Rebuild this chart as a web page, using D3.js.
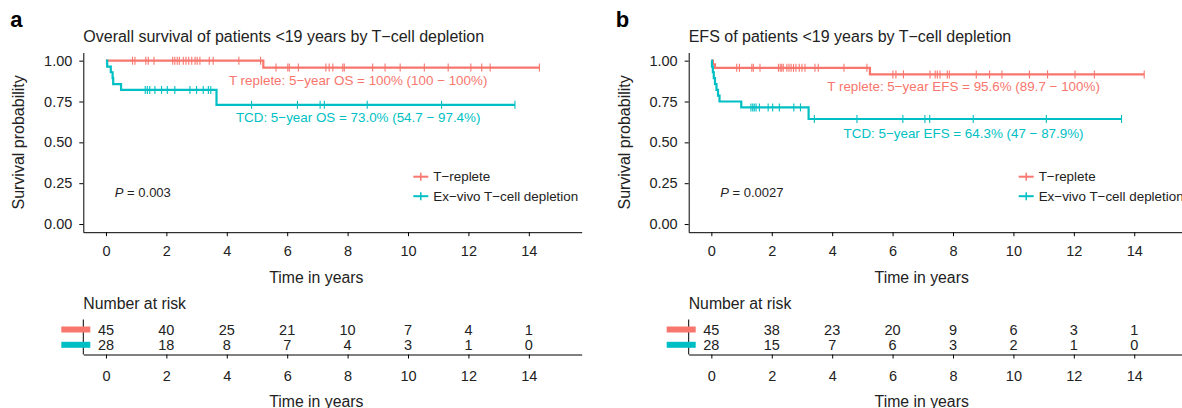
<!DOCTYPE html>
<html>
<head>
<meta charset="utf-8">
<script src="https://cdnjs.cloudflare.com/ajax/libs/d3/7.8.5/d3.min.js"></script>
<style>
  body { margin: 0; background: #fff; }
  svg { display: block; font-family: "Liberation Sans", Arial, Helvetica, sans-serif; }
  .axis path, .axis line { stroke: #000; }
  .axis text { fill: #222; }
</style>
</head>
<body>
<svg id="chart" width="1182" height="408"></svg>
<script>
// ---- data ----
const timeTicks = [0, 2, 4, 6, 8, 10, 12, 14];
const survTicks = [0, 0.25, 0.5, 0.75, 1];
const groups = ["T\u2212replete", "Ex\u2212vivo T\u2212cell depletion"];
const colors = ["#F8766D", "#00BFC4"];

// panel a: overall survival
const osRepleteSteps = [[0, 1], [5.21, 0.958]];
const osRepleteEnd = 14.35;
const osRepleteCensor = [0.88, 0.96, 1.32, 1.40, 1.59, 2.21, 2.28, 2.36, 2.43, 2.56, 2.65, 2.74, 2.84, 2.95,
  3.02, 3.11, 3.42, 3.55, 4.40, 5.12, 5.63, 6.02, 6.07, 6.37, 7.28, 7.39, 7.51, 7.84, 7.89, 8.83, 9.24,
  9.74, 10.54, 11.33, 12.08, 12.44, 12.72, 14.35];
const osTcdSteps = [[0, 1], [0.04, 0.964], [0.16, 0.929], [0.22, 0.893], [0.24, 0.857], [0.50, 0.821], [3.66, 0.730]];
const osTcdEnd = 13.54;
const osTcdCensor = [1.30, 1.37, 1.45, 1.62, 1.84, 2.03, 2.28, 2.78, 3.00, 3.22, 3.39, 3.47, 4.82, 6.34,
  7.09, 7.23, 8.65, 11.11, 13.54];
const osRiskReplete = [45, 40, 25, 21, 10, 7, 4, 1];
const osRiskTcd = [28, 18, 8, 7, 4, 3, 1, 0];

// panel b: event-free survival
const efsRepleteSteps = [[0, 1], [0.05, 0.978], [0.12, 0.956], [5.25, 0.916]];
const efsRepleteEnd = 14.33;
const efsRepleteCensor = [0.84, 0.93, 1.34, 1.39, 1.61, 2.22, 2.28, 2.33, 2.38, 2.50, 2.57, 2.64, 2.72, 2.80,
  2.91, 3.00, 3.10, 3.43, 3.54, 4.39, 5.15, 6.01, 6.11, 6.36, 7.24, 7.41, 7.48, 7.57, 7.81, 7.88, 8.77,
  9.21, 9.62, 10.53, 11.13, 12.04, 12.68, 14.33];
const efsTcdSteps = [[0, 1], [0.02, 0.964], [0.05, 0.929], [0.08, 0.893], [0.12, 0.857], [0.17, 0.821],
  [0.22, 0.786], [0.27, 0.75], [0.99, 0.714], [3.22, 0.643]];
const efsTcdEnd = 13.58;
const efsTcdCensor = [1.31, 1.37, 1.42, 1.48, 1.59, 1.88, 2.03, 2.25, 2.73, 2.95, 3.41, 4.82, 6.34, 7.07,
  7.23, 8.67, 11.09, 13.58];
const efsRiskReplete = [45, 38, 23, 20, 9, 6, 3, 1];
const efsRiskTcd = [28, 15, 7, 6, 3, 2, 1, 0];

const panels = [
  {
    letter: "a", left: 83.3,
    title: "Overall survival of patients <19 years by T\u2212cell depletion",
    curves: [
      {steps: osRepleteSteps, end: osRepleteEnd, censor: osRepleteCensor},
      {steps: osTcdSteps, end: osTcdEnd, censor: osTcdCensor}
    ],
    notes: [
      {t: 8.35, s: 0.88, text: "T replete: 5\u2212year OS = 100% (100 \u2212 100%)"},
      {t: 8.35, s: 0.655, text: "TCD: 5\u2212year OS = 73.0% (54.7 \u2212 97.4%)"}
    ],
    pval: "0.003",
    risk: [osRiskReplete, osRiskTcd]
  },
  {
    letter: "b", left: 688.7,
    title: "EFS of patients <19 years by T\u2212cell depletion",
    curves: [
      {steps: efsRepleteSteps, end: efsRepleteEnd, censor: efsRepleteCensor},
      {steps: efsTcdSteps, end: efsTcdEnd, censor: efsTcdCensor}
    ],
    notes: [
      {t: 8.35, s: 0.84, text: "T replete: 5\u2212year EFS = 95.6% (89.7 \u2212 100%)"},
      {t: 8.35, s: 0.553, text: "TCD: 5\u2212year EFS = 64.3% (47 \u2212 87.9%)"}
    ],
    pval: "0.0027",
    risk: [efsRiskReplete, efsRiskTcd]
  }
];

const svg = d3.select("#chart");
const plotW = 498.4;

function survAt(steps, t) {
  let s = steps[0][1];
  steps.forEach(d => { if (d[0] <= t) s = d[1]; });
  return s;
}

panels.forEach(p => {
  const g = svg.append("g");
  const x = d3.scaleLinear().domain([-0.75, 15.75]).range([p.left, p.left + plotW]);
  const y = d3.scaleLinear().domain([-0.05, 1.05]).range([232.2, 52.5]);

  g.append("text")
    .attr("x", p.left - 73).attr("y", 27)
    .attr("font-size", 22).attr("font-weight", "bold").attr("fill", "#000")
    .text(p.letter);

  g.append("text")
    .attr("x", p.left).attr("y", 42)
    .attr("font-size", 16).attr("fill", "#222")
    .text(p.title);

  // axes
  g.append("g").attr("class", "axis")
    .attr("transform", `translate(${p.left},0)`)
    .call(d3.axisLeft(y).tickValues(survTicks).tickFormat(d3.format(".2f"))
      .tickSize(4).tickSizeOuter(0).tickPadding(7))
    .call(a => a.selectAll("text").attr("font-size", 14.5).attr("font-family", null));

  g.append("g").attr("class", "axis")
    .attr("transform", "translate(0,232.2)")
    .call(d3.axisBottom(x).tickValues(timeTicks).tickSize(4).tickSizeOuter(0).tickPadding(10))
    .call(a => a.selectAll("text").attr("font-size", 14.5).attr("font-family", null));

  g.append("text")
    .attr("transform", `translate(${p.left - 59},142.4) rotate(-90)`)
    .attr("text-anchor", "middle").attr("font-size", 16).attr("fill", "#222")
    .text("Survival probability");

  g.append("text")
    .attr("x", p.left + 233).attr("y", 283)
    .attr("text-anchor", "middle").attr("font-size", 15.8).attr("fill", "#222")
    .text("Time in years");

  // curves
  const line = d3.line().x(d => x(d[0])).y(d => y(d[1])).curve(d3.curveStepAfter);
  p.curves.forEach((c, i) => {
    const pts = c.steps.concat([[c.end, c.steps[c.steps.length - 1][1]]]);
    g.append("path")
      .attr("d", line(pts))
      .attr("fill", "none").attr("stroke", colors[i]).attr("stroke-width", 2.2);
    g.selectAll(null)
      .data(c.censor)
      .enter()
      .append("line")
        .attr("x1", d => x(d)).attr("x2", d => x(d))
        .attr("y1", d => y(survAt(c.steps, d)) - 4)
        .attr("y2", d => y(survAt(c.steps, d)) + 4)
        .attr("stroke", colors[i]).attr("stroke-width", 1.1);
  });

  p.notes.forEach((n, i) => {
    g.append("text")
      .attr("x", x(n.t)).attr("y", y(n.s))
      .attr("dy", "0.35em").attr("text-anchor", "middle")
      .attr("font-size", 13.4).attr("fill", colors[i])
      .text(n.text);
  });

  const pt = g.append("text")
    .attr("x", p.left + 31.5).attr("y", 192.5).attr("dy", "0.35em")
    .attr("font-size", 13).attr("fill", "#222");
  pt.append("tspan").attr("font-style", "italic").text("P");
  pt.append("tspan").text(" = " + p.pval);

  // legend
  groups.forEach((name, i) => {
    const ly = 176.7 + i * 19.5;
    const lx = p.left + 330;
    g.append("line").attr("x1", lx).attr("x2", lx + 15).attr("y1", ly).attr("y2", ly)
      .attr("stroke", colors[i]).attr("stroke-width", 2);
    g.append("line").attr("x1", lx + 7.5).attr("x2", lx + 7.5).attr("y1", ly - 4).attr("y2", ly + 4)
      .attr("stroke", colors[i]).attr("stroke-width", 1.5);
    g.append("text").attr("x", p.left + 350).attr("y", ly).attr("dy", "0.35em")
      .attr("font-size", 13.4).attr("fill", "#222").text(name);
  });

  // number at risk table
  g.append("text")
    .attr("x", p.left).attr("y", 303).attr("dy", "0.35em")
    .attr("font-size", 15.8).attr("fill", "#222")
    .text("Number at risk");

  const rowY = [329.5, 344.8];
  g.append("line").attr("x1", p.left).attr("x2", p.left).attr("y1", 319.5).attr("y2", 354.5)
    .attr("stroke", "#000");
  g.append("g").attr("class", "axis")
    .attr("transform", "translate(0,354.5)")
    .call(d3.axisBottom(x).tickValues(timeTicks).tickSize(4).tickSizeOuter(0).tickPadding(12))
    .call(a => a.selectAll("text").attr("font-size", 14.5).attr("font-family", null));

  p.risk.forEach((row, i) => {
    g.append("rect")
      .attr("x", p.left - 22).attr("y", rowY[i] - 3)
      .attr("width", 29).attr("height", 6)
      .attr("fill", colors[i]);
    g.selectAll(null)
      .data(row)
      .enter()
      .append("text")
        .attr("x", (d, j) => x(timeTicks[j]))
        .attr("y", rowY[i]).attr("dy", "0.35em")
        .attr("text-anchor", "middle").attr("font-size", 14.5).attr("fill", "#222")
        .text(d => d);
  });

  g.append("text")
    .attr("x", p.left + 233).attr("y", 401)
    .attr("dy", "0.35em")
    .attr("text-anchor", "middle").attr("font-size", 15.8).attr("fill", "#222")
    .text("Time in years");
});
</script>
</body>
</html>
